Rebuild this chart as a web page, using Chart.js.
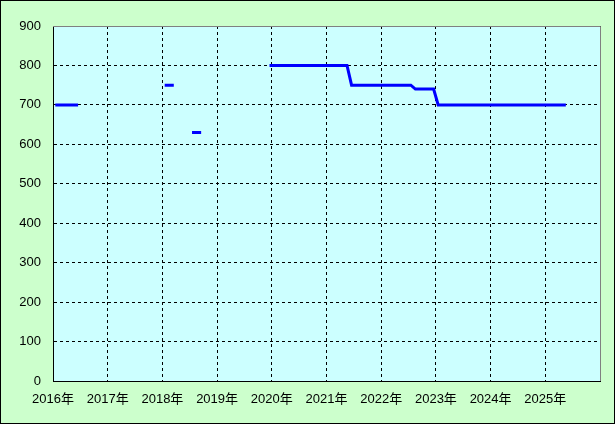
<!DOCTYPE html>
<html>
<head>
<meta charset="utf-8">
<script src="https://cdn.jsdelivr.net/npm/chart.js@4"></script>
<style>
  html, body { margin: 0; padding: 0; background: #fff; }
  #wrap { width: 613px; height: 422px; border: 1px solid #000; background: #ccffcc; }
</style>
</head>
<body>
<div id="wrap"><canvas id="chart" width="613" height="422"></canvas></div>
<script>
// monthly points (mid-month), null breaks the line
var pointDates = ["2016-01", "2016-06", "2016-07",
  "2018-01", "2018-03", "2018-04",
  "2018-07", "2018-09", "2018-10",
  "2019-12", "2021-05", "2021-06", "2022-07", "2022-08", "2022-12", "2023-01", "2025-05"];
var pointValues = [700, 700, null,
  750, 750, null,
  630, 630, null,
  800, 800, 750, 750, 740, 740, 700, 700];

var yearTicks = [2016, 2017, 2018, 2019, 2020, 2021, 2022, 2023, 2024, 2025];
var yTicks = [0, 100, 200, 300, 400, 500, 600, 700, 800, 900];

function toYear(s) {
  var p = s.split("-");
  return +p[0] + (+p[1] - 0.5) / 12;
}

var points = pointDates.map(function(d, i) {
  return { x: toYear(d), y: pointValues[i] };
});

var plotBg = {
  id: "plotBg",
  beforeDraw: function(chart) {
    var a = chart.chartArea, ctx = chart.ctx;
    ctx.save();
    ctx.fillStyle = "#ccffff";
    ctx.fillRect(a.left, a.top, a.right - a.left, a.bottom - a.top);
    ctx.restore();
  },
  afterDatasetsDraw: function(chart) {
    var a = chart.chartArea, ctx = chart.ctx;
    ctx.save();
    ctx.strokeStyle = "#808080";
    ctx.lineWidth = 1;
    ctx.beginPath();
    ctx.moveTo(a.left, a.top + 0.5);
    ctx.lineTo(a.right + 0.5, a.top + 0.5);
    ctx.lineTo(a.right + 0.5, a.bottom);
    ctx.stroke();
    ctx.restore();
  }
};

var font = { family: "'Liberation Sans', 'Noto Sans CJK JP', sans-serif", size: 13 };

new Chart(document.getElementById("chart").getContext("2d"), {
  type: "line",
  data: {
    datasets: [{
      data: points,
      borderColor: "#0000ff",
      borderWidth: 3,
      pointRadius: 0,
      spanGaps: false,
      tension: 0
    }]
  },
  options: {
    responsive: false,
    animation: false,
    layout: { padding: { top: 25, right: 14, left: 0, bottom: 0 } },
    plugins: { legend: { display: false }, tooltip: { enabled: false } },
    scales: {
      x: {
        type: "linear",
        min: 2016,
        max: 2026,
        afterBuildTicks: function(scale) {
          scale.ticks = yearTicks.concat([2026]).map(function(v) { return { value: v }; });
        },
        afterFit: function(scale) { scale.height = 42; },
        ticks: {
          color: "#000",
          font: font,
          padding: 11,
          maxRotation: 0,
          autoSkip: false,
          callback: function(v) { return v === 2026 ? "" : v + "年"; }
        },
        grid: { color: "#000", lineWidth: 1, drawTicks: false },
        border: { color: "#000", width: 1, dash: [3, 3] }
      },
      y: {
        min: 0,
        max: 900,
        afterBuildTicks: function(scale) {
          scale.ticks = yTicks.map(function(v) { return { value: v }; });
        },
        afterFit: function(scale) { scale.width = 52; },
        ticks: { color: "#000", font: font, padding: 12 },
        grid: { color: "#000", lineWidth: 1, drawTicks: false },
        border: { color: "#000", width: 1, dash: [3, 3] }
      }
    }
  },
  plugins: [plotBg]
});
</script>
</body>
</html>
